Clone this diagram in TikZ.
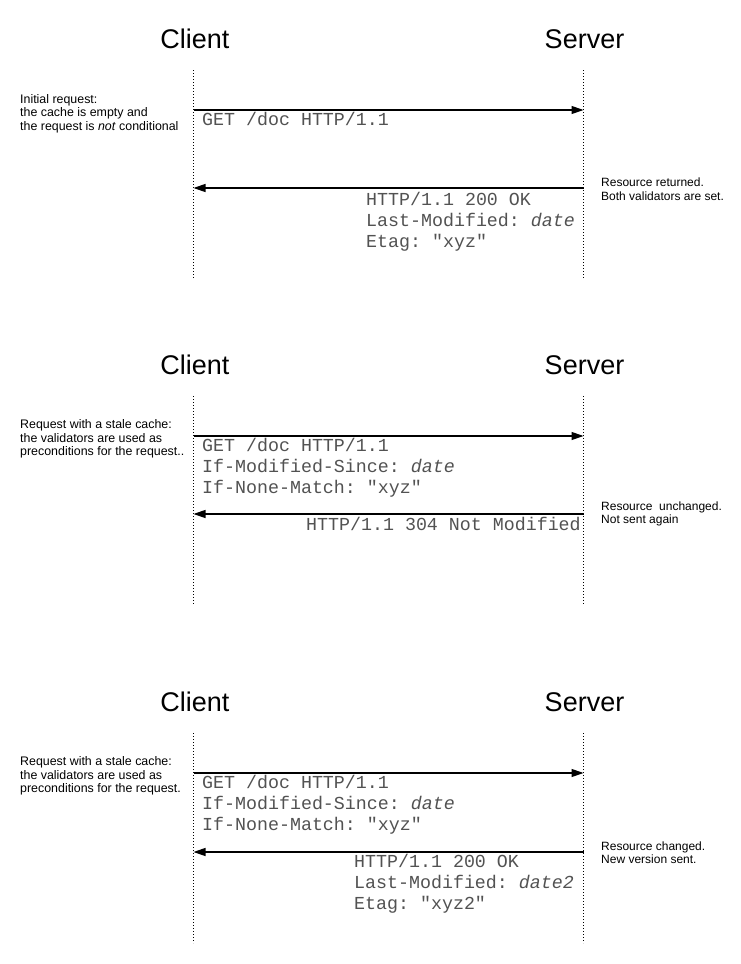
\documentclass[tikz,border=0pt]{standalone}
\usepackage{fontspec}
\setmainfont{Liberation Sans}
\setmonofont{Liberation Mono}
\usetikzlibrary{arrows.meta}
\tikzset{
  title/.style={font=\fontsize{27}{30}\selectfont, inner sep=0pt, anchor=base},
  life/.style={line width=0.8pt, dash pattern=on 1pt off 2pt},
  msg/.style={line width=1.2pt, -{Triangle[length=12pt,width=8pt]}},
  code/.style={font=\fontsize{18.3}{21}\selectfont\ttfamily, text=black!68, anchor=base west, inner sep=0pt},
  note/.style={font=\fontsize{12}{13.5}\selectfont, align=left, anchor=west, inner sep=0pt},
  lnote/.style={note, font=\fontsize{12.4}{13.5}\selectfont},
}
\begin{document}
\begin{tikzpicture}[x=1pt,y=-1pt]
\useasboundingbox (0,0) rectangle (740,964);
% ---------- Panel 1 ----------
\begin{scope}
\node[title] (client1) at (195,48) {Client};
\node[title] (server1) at (584.5,48) {Server};
\coordinate (c1top) at (193.5,70); \coordinate (c1bot) at (193.5,278);
\coordinate (s1top) at (583.5,70); \coordinate (s1bot) at (583.5,278);
\draw[life] (c1top) -- (c1bot);
\draw[life] (s1top) -- (s1bot);
\coordinate (c1a) at (193.5,110); \coordinate (s1a) at (583.5,110);
\coordinate (c1b) at (193.5,188); \coordinate (s1b) at (583.5,188);
\draw[msg] (c1a) -- (s1a);
\draw[msg] (s1b) -- (c1b);
\node[code] (req1a) at (202,125) {GET /doc HTTP/1.1};
\node[code] (res1a) at (366,205) {HTTP/1.1 200 OK};
\node[code] (res1b) at (366,226) {Last-Modified: \textit{date}};
\node[code] (res1c) at (366,247) {Etag: "xyz"};
\node[lnote] (left1) at (20,113.5) {Initial request:\\the cache is empty and\\the request is \textit{not} conditional};
\node[note] (right1) at (601,189) {Resource returned.\\Both validators are set.};
\end{scope}
% ---------- Panel 2 ----------
\begin{scope}[yshift=-326pt]
\node[title] (client2) at (195,48) {Client};
\node[title] (server2) at (584.5,48) {Server};
\coordinate (c2top) at (193.5,70); \coordinate (c2bot) at (193.5,279);
\coordinate (s2top) at (583.5,70); \coordinate (s2bot) at (583.5,279);
\draw[life] (c2top) -- (c2bot);
\draw[life] (s2top) -- (s2bot);
\coordinate (c2a) at (193.5,110); \coordinate (s2a) at (583.5,110);
\coordinate (c2b) at (193.5,188); \coordinate (s2b) at (583.5,188);
\draw[msg] (c2a) -- (s2a);
\draw[msg] (s2b) -- (c2b);
\node[code] (req2a) at (202,125) {GET /doc HTTP/1.1};
\node[code] (req2b) at (202,146) {If-Modified-Since: \textit{date}};
\node[code] (req2c) at (202,167) {If-None-Match: "xyz"};
\node[code] (res2a) at (306,204) {HTTP/1.1 304 Not Modified};
\node[lnote] (left2) at (20,113) {Request with a stale cache:\\the validators are used as\\preconditions for the request..};
\node[note] (right2) at (601,188) {Resource~ unchanged.\\Not sent again};
\end{scope}
% ---------- Panel 3 ----------
\begin{scope}[yshift=-663pt]
\node[title] (client3) at (195,48) {Client};
\node[title] (server3) at (584.5,48) {Server};
\coordinate (c3top) at (193.5,70); \coordinate (c3bot) at (193.5,280);
\coordinate (s3top) at (583.5,70); \coordinate (s3bot) at (583.5,280);
\draw[life] (c3top) -- (c3bot);
\draw[life] (s3top) -- (s3bot);
\coordinate (c3a) at (193.5,110); \coordinate (s3a) at (583.5,110);
\coordinate (c3b) at (193.5,189); \coordinate (s3b) at (583.5,189);
\draw[msg] (c3a) -- (s3a);
\draw[msg] (s3b) -- (c3b);
\node[code] (req3a) at (202,125) {GET /doc HTTP/1.1};
\node[code] (req3b) at (202,146) {If-Modified-Since: \textit{date}};
\node[code] (req3c) at (202,167) {If-None-Match: "xyz"};
\node[code] (res3a) at (354,204) {HTTP/1.1 200 OK};
\node[code] (res3b) at (354,225) {Last-Modified: \textit{date2}};
\node[code] (res3c) at (354,246) {Etag: "xyz2"};
\node[lnote] (left3) at (20,113) {Request with a stale cache:\\the validators are used as\\preconditions for the request.};
\node[note] (right3) at (601,189.5) {Resource changed.\\New version sent.};
\end{scope}
\end{tikzpicture}
\end{document}
